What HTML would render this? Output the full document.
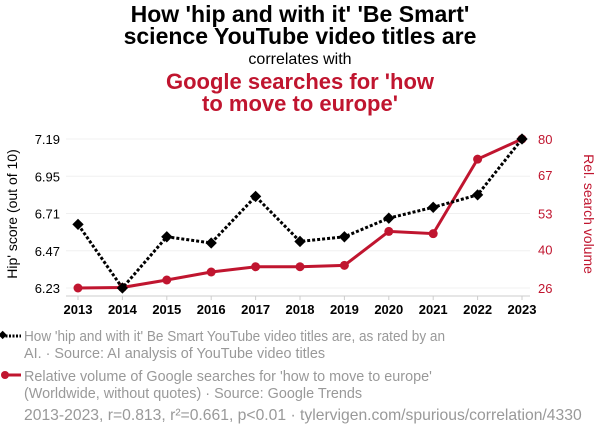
<!DOCTYPE html>
<html><head><meta charset="utf-8">
<style>
body{margin:0;background:#fff;width:600px;height:436px;overflow:hidden;font-family:"Liberation Sans",sans-serif;}
svg text{font-family:"Liberation Sans",sans-serif;}
</style></head>
<body>
<svg width="600" height="436">
<text x="300" y="22" text-anchor="middle" font-size="23" font-weight="bold" fill="#000">How 'hip and with it' 'Be Smart'</text>
<text x="300" y="44" text-anchor="middle" font-size="23" font-weight="bold" fill="#000">science YouTube video titles are</text>
<text x="300" y="64" text-anchor="middle" font-size="16" fill="#000">correlates with</text>
<text x="300" y="89" text-anchor="middle" font-size="22" font-weight="bold" fill="#c0152f">Google searches for 'how</text>
<text x="300" y="111" text-anchor="middle" font-size="22" font-weight="bold" fill="#c0152f">to move to europe'</text>
<g id="grid"></g>
<g id="axes"></g>
<g id="marks"></g>
<text transform="translate(17,214) rotate(-90)" text-anchor="middle" font-size="14" fill="#000">Hip' score (out of 10)</text>
<text transform="translate(584,214) rotate(90)" text-anchor="middle" font-size="14" fill="#c0152f">Rel. search volume</text>
<g>
<line x1="2" y1="336" x2="21" y2="336" stroke="#000" stroke-width="3" stroke-dasharray="2,1.5"/>
<rect x="-1" y="332.5" width="6" height="6" transform="rotate(45 3 336)" fill="#000"/>
<text x="24" y="341" font-size="14.4" fill="#999" textLength="421" lengthAdjust="spacingAndGlyphs">How 'hip and with it' Be Smart YouTube video titles are, as rated by an</text>
<text x="24" y="358" font-size="14.4" fill="#999">AI. · Source: AI analysis of YouTube video titles</text>
</g>
<g>
<line x1="2" y1="375" x2="21" y2="375" stroke="#c0152f" stroke-width="3"/>
<circle cx="5" cy="375" r="4" fill="#c0152f"/>
<text x="24" y="381" font-size="14.4" fill="#999">Relative volume of Google searches for 'how to move to europe'</text>
<text x="24" y="398" font-size="14.4" fill="#999">(Worldwide, without quotes) · Source: Google Trends</text>
</g>
<text x="24" y="420" font-size="15.7" fill="#999">2013-2023, r=0.813, r²=0.661, p&lt;0.01 · tylervigen.com/spurious/correlation/4330</text>
</svg>
<script>
const years=[2013,2014,2015,2016,2017,2018,2019,2020,2021,2022,2023];
const hipScores=[6.64,6.23,6.56,6.52,6.82,6.53,6.56,6.68,6.75,6.83,7.19];
const searchVolume=[26.0,26.2,28.9,31.8,33.7,33.7,34.2,46.5,45.7,72.7,80];
const leftTicks=[6.23,6.47,6.71,6.95,7.19];
const rightTicks=[26,40,53,67,80];
const NS="http://www.w3.org/2000/svg";
const X0=78,X1=522,YT=139,YB=288;
const xs=y=>X0+(y-years[0])/(years[years.length-1]-years[0])*(X1-X0);
const yl=v=>YB-(v-6.23)/(7.19-6.23)*(YB-YT);
const yr=v=>YB-(v-26)/(80-26)*(YB-YT);
function mk(tag,attrs,parent,txt){const e=document.createElementNS(NS,tag);for(const k in attrs)e.setAttribute(k,attrs[k]);if(txt!=null)e.textContent=txt;document.getElementById(parent).appendChild(e);return e;}
leftTicks.forEach((t,i)=>{
  const g=mk('line',{x1:66,x2:530,y1:yl(t),y2:yl(t),stroke:'#f0f0f0','stroke-width':1},'grid');
  
  
  const l=mk('text',{x:60,y:yl(t)+5,'text-anchor':'end','font-size':13,fill:'#000'},'axes',t.toFixed(2));
  
  
});
rightTicks.forEach(t=>{
  const l=mk('text',{x:538,y:yr(t)+5,'font-size':13,fill:'#c0152f'},'axes',String(t));
  
  
});
const ax=mk('line',{x1:66,x2:530,y1:296,y2:296,stroke:'#ccc','stroke-width':1},'axes');


years.forEach(y=>{
  mk('line',{x1:xs(y),x2:xs(y),y1:296,y2:300,stroke:'#ccc'},'axes');
  const l=mk('text',{x:xs(y),y:314,'text-anchor':'middle','font-size':13,'font-weight':'bold',fill:'#000'},'axes',String(y));
  
  
});
const rp=mk('polyline',{points:years.map((y,i)=>xs(y)+','+yr(searchVolume[i])).join(' '),fill:'none',stroke:'#c0152f','stroke-width':3},'marks');


years.forEach((y,i)=>{
  const c=mk('circle',{cx:xs(y),cy:yr(searchVolume[i]),r:4.5,fill:'#c0152f'},'marks');
  
  
});
const bp=mk('polyline',{points:years.map((y,i)=>xs(y)+','+yl(hipScores[i])).join(' '),fill:'none',stroke:'#000','stroke-width':3,'stroke-dasharray':'3,2'},'marks');


years.forEach((y,i)=>{
  const cx=xs(y),cy=yl(hipScores[i]);
  const d=mk('rect',{x:cx-4,y:cy-4,width:8,height:8,fill:'#000',transform:`rotate(45 ${cx} ${cy})`},'marks');
  
  
});
</script>
</body></html>
